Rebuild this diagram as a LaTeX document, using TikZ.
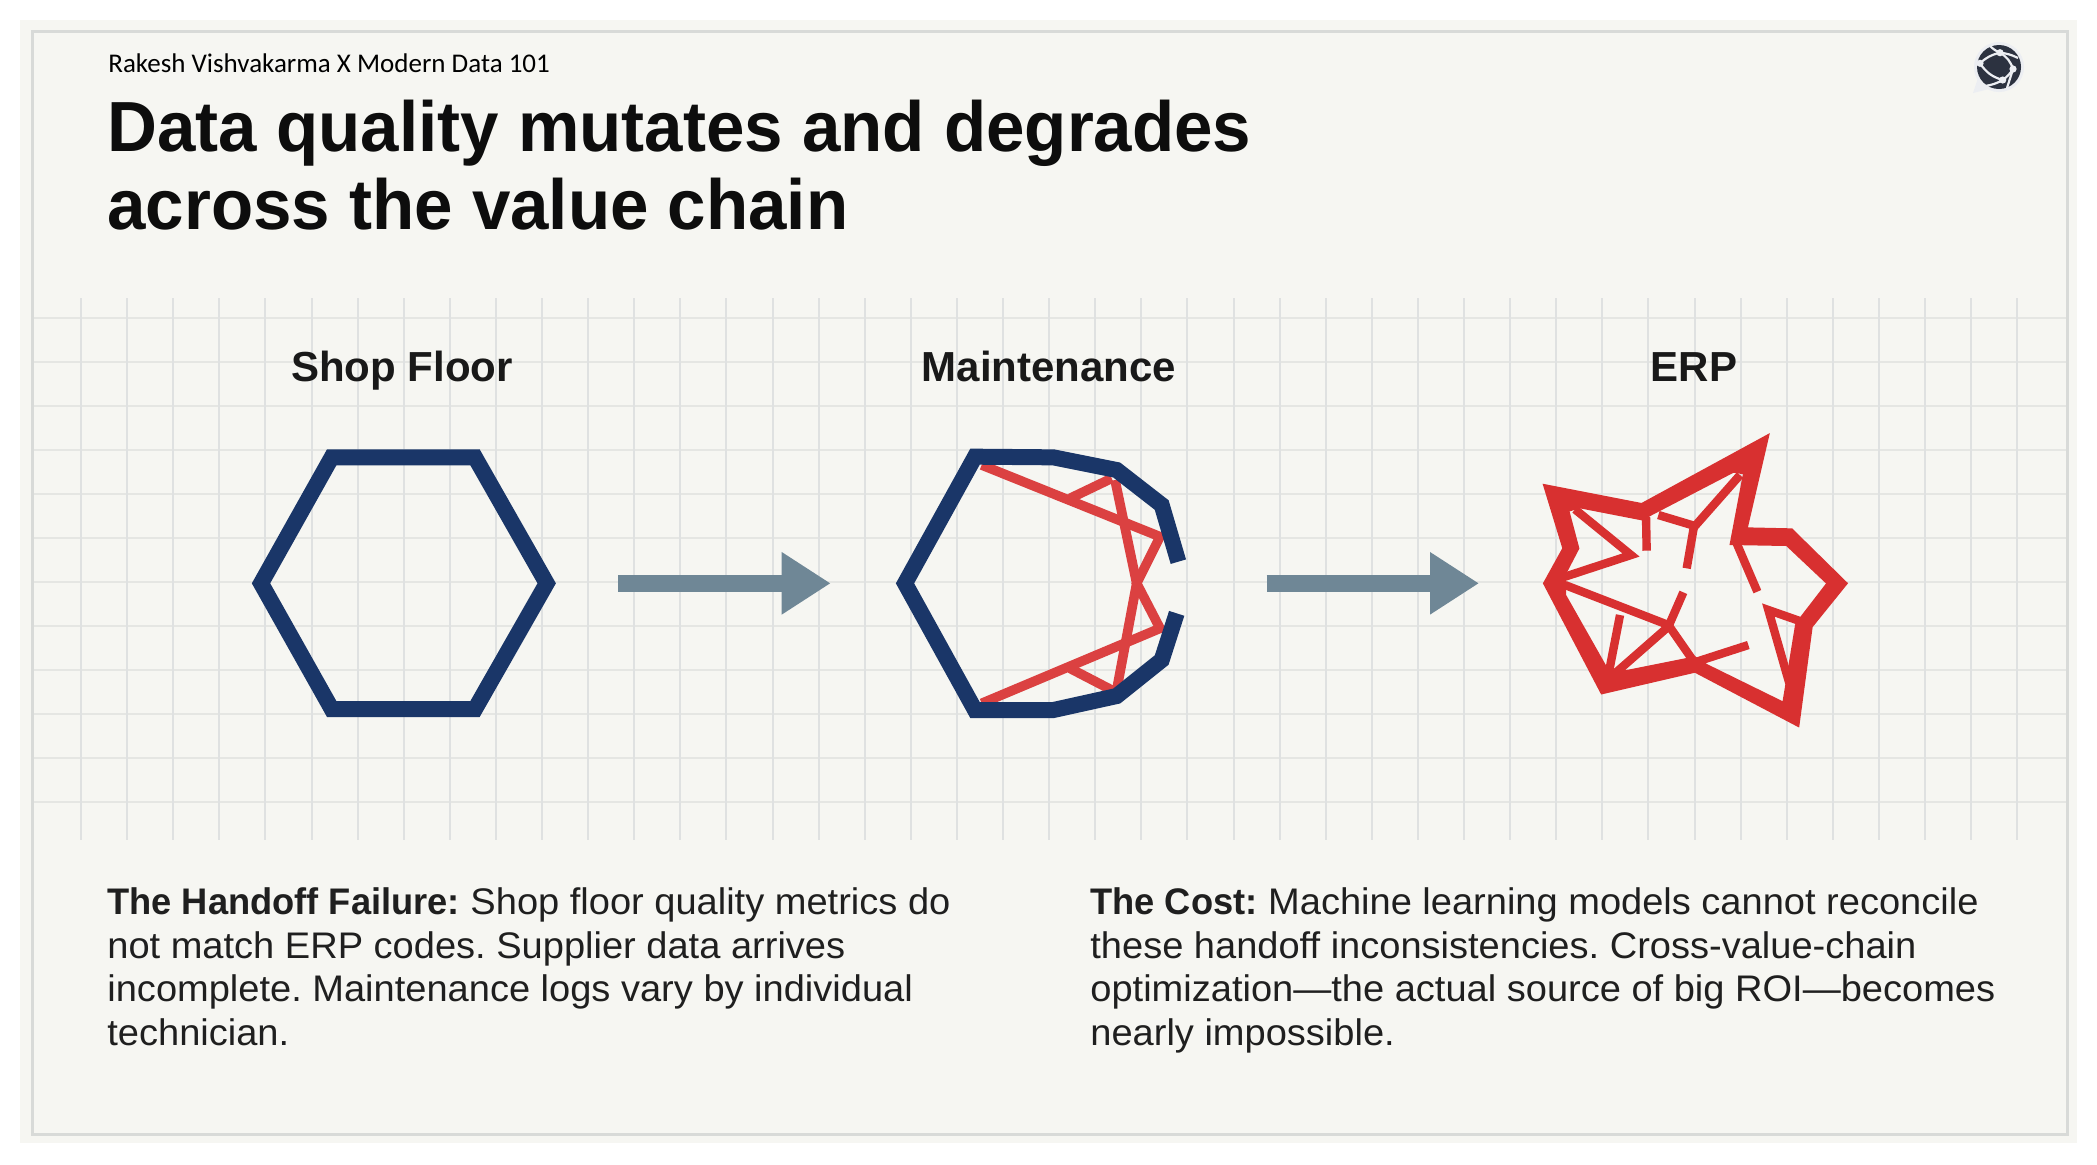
\documentclass[tikz,border=0pt]{standalone}
\usepackage{fontspec}
\usetikzlibrary{arrows.meta}
\setmainfont{Liberation Sans}
\newfontfamily\titlefont[FakeStretch=0.973]{Liberation Sans}
\newfontfamily\bodyfont[FakeStretch=1.028,BoldFeatures={FakeStretch=0.98}]{Liberation Sans}
\newfontfamily\handfont{Carlito}
\definecolor{paper}{HTML}{F6F6F2}
\definecolor{gridline}{HTML}{E5E6E3}
\definecolor{gridupright}{HTML}{DFE1E1}
\definecolor{framegray}{HTML}{D8DAD8}
\definecolor{navyline}{HTML}{1A3668}
\definecolor{crackred}{HTML}{D83030}
\definecolor{flowgray}{HTML}{6F8796}
\definecolor{logodark}{HTML}{2C3240}
\definecolor{logohalo}{HTML}{ECEEF2}
\tikzset{
  stagelabel/.style={font=\bfseries\fontsize{21}{25}\selectfont, text=black!90, anchor=base},
  bodytext/.style={font=\bodyfont\frenchspacing\fontsize{18.5}{21.9}\selectfont, text=black!88, align=left, anchor=north west, inner sep=0pt},
  hexline/.style={navyline, line width=8pt, miter limit=10},
  crack/.style={crackred, line width=4.2pt},
  wearline/.style={crackred!92!white, line width=4.8pt},
  flowarrow/.style={flowgray, line width=8.4pt, -{Triangle[length=24.5pt,width=29.5pt]}},
  traced/.style={x=0.16667pt, y=-0.16667pt}
}
\begin{document}
\begin{tikzpicture}[x=0.5pt, y=-0.5pt]
  \useasboundingbox (0,0) rectangle (2097,1164);
  \fill[paper] (20,20) rectangle (2077,1143);
  \foreach \k in {0,...,11} \draw[gridline, line width=1pt] (33,318.3+44*\k) -- (2066,318.3+44*\k);
  \foreach \k in {0,...,42} \draw[gridupright, line width=1pt] (81+46.1*\k,298) -- (81+46.1*\k,840);
  \draw[framegray, line width=1.5pt] (32,31) rectangle (2067,1134);

  \node[anchor=base west, inner sep=0pt, font=\handfont\fontsize{13.5}{15}\selectfont] (byline) at (108,72) {Rakesh Vishvakarma X Modern Data 101};
  \node[anchor=north west, inner sep=0pt, align=left, text=black!95, font=\titlefont\bfseries\fontsize{35.5}{39}\selectfont] (title) at (107,100)
    {Data quality mutates and degrades\\across the value chain};

  % logo
  \fill[logohalo] (1999,67) circle (25) (1973,93) -- (1979,75) -- (1993,88) -- cycle;
  \fill[logodark] (1999,67) circle (22);
  \coordinate (lnA) at (2000,52.7);
  \coordinate (lnB) at (1980,63.3);
  \coordinate (lnC) at (2013,69);
  \coordinate (lnD) at (2002.7,80);
  \draw[logohalo, line width=1.1pt] (lnB) to[bend left=15] (lnA) to[bend left=20] (lnC) to[bend left=10] (lnD) to[bend left=20] (lnB);
  \draw[logohalo, line width=1.1pt] (lnA) to[bend left=10] (1990,46) (lnA) to[bend left=10] (2018,58) (lnC) -- (2007,88) (lnD) to[bend left=10] (1985,86);
  \foreach \p in {lnA,lnB,lnC,lnD} \fill[logohalo] (\p) circle (3.6);

  \node[stagelabel] (shoplabel) at (402,381.5) {Shop Floor};
  \node[stagelabel] (maintlabel) at (1049,381.5) {Maintenance};
  \node[stagelabel] (erplabel) at (1694,381.5) {ERP};

  % intact
  \draw[hexline] (261,583.3) -- (331.7,457.3) -- (475,457.3) -- (546.7,583.3) -- (475,709) -- (331.7,709) -- cycle;

  % cracking
  \begin{scope}[shift={(860,420)}, traced]
    \draw[wearline] (365,135) -- (900,350) -- (830,490) -- (900,625) -- (365,850);
    \draw[wearline] (630,235) -- (755,175);
    \draw[wearline] (765,180) -- (830,490) -- (770,810);
    \draw[wearline] (630,745) -- (755,810);
    \draw[hexline] (955,425) -- (905,255) -- (770,150) -- (580,112) -- (345,110) -- (135,490) -- (345,870)
      -- (580,870) -- (770,828) -- (905,720) -- (950,580);
  \end{scope}

  % broken
  \begin{scope}[shift={(1520,420)}, traced]
    \filldraw[crackred, line width=1pt, even odd rule] (72,195) -- (365,252) -- (745,45) -- (680,325) -- (815,328) -- (980,490) -- (875,620) -- (835,918)
      -- (525,755) -- (245,820) -- (72,490) -- (130,385) -- cycle
      (145,272) -- (180,262) -- (365,298) -- (640,155) -- (672,160) -- (632,372) -- (800,375) -- (922,490) -- (845,590) -- (828,615)
      -- (790,848) -- (560,735) -- (525,712) -- (325,752) -- (280,755) -- (258,742) -- (135,525) -- (135,462) -- (175,385) -- cycle;
    \draw[crack] (165,268) -- (333,405) -- (135,470);
    \draw[crack] (378,290) -- (380,392);
    \draw[crack] (415,285) -- (525,318) -- (660,165);
    \draw[crack] (522,318) -- (500,445);
    \draw[crack] (650,370) -- (712,515);
    \draw[crack] (135,495) -- (445,615) -- (525,730);
    \draw[crack] (300,585) -- (268,750);
    \draw[crack] (445,620) -- (285,760);
    \draw[crack] (445,620) -- (490,517);
    \draw[crack] (530,725) -- (685,675);
    \draw[crack] (845,605) -- (745,570) -- (808,790);
  \end{scope}

  \coordinate (shopout) at (618.3,583.3);
  \coordinate (maintin) at (830.7,583.3);
  \coordinate (maintout) at (1266.7,583.3);
  \coordinate (erpin) at (1479,583.3);
  \draw[flowarrow] (shopout) -- (maintin);
  \draw[flowarrow] (maintout) -- (erpin);

  \node[bodytext] (handoff) at (107,887)
    {\textbf{The Handoff Failure:} Shop floor quality metrics do\\not match ERP codes. Supplier data arrives\\incomplete. Maintenance logs vary by individual\\technician.};
  \node[bodytext] (cost) at (1090,887)
    {\textbf{The Cost:} Machine learning models cannot reconcile\\these handoff inconsistencies. Cross-value-chain\\optimization—the actual source of big ROI—becomes\\nearly impossible.};
\end{tikzpicture}
\end{document}
